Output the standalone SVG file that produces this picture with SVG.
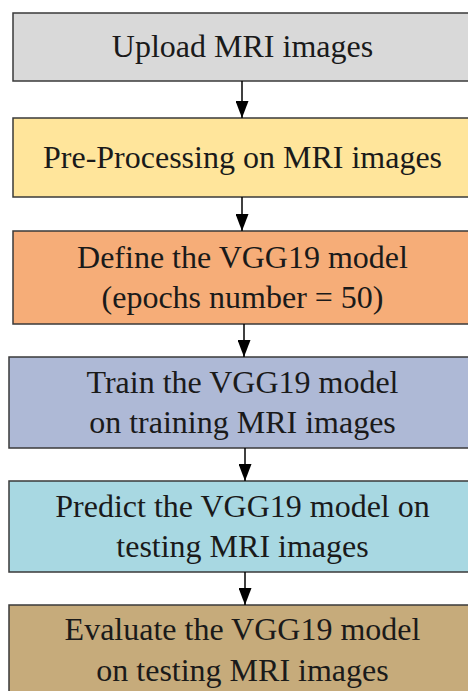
<svg xmlns="http://www.w3.org/2000/svg" width="468" height="691" viewBox="0 0 468 691">
<style>
.box{stroke:#3a3a3a;stroke-width:1.5}
.t{font-family:'Liberation Serif','Tinos','Nimbus Roman','DejaVu Serif',serif;font-size:32px;fill:#1a1a1a;text-anchor:middle}
.conn line{stroke:#000;stroke-width:1.5}
</style>
<defs>
<marker id="ah" markerWidth="17" markerHeight="13" refX="17" refY="6.5" orient="auto" markerUnits="userSpaceOnUse" viewBox="0 0 17 13">
<path d="M0,0 L17,6.5 L0,13 Z" fill="#000"/>
</marker>
</defs>
<rect width="468" height="691" fill="#fff"/>
<g id="n1"><rect class="box" x="13" y="13" width="470" height="68" fill="#d9d9d9"/><text class="t" font-family="Liberation Serif, serif" x="242.5" y="57">Upload MRI images</text></g>
<g id="n2"><rect class="box" x="13" y="118" width="470" height="79" fill="#ffe59b"/><text class="t" font-family="Liberation Serif, serif" x="242.5" y="168">Pre-Processing on MRI images</text></g>
<g id="n3"><rect class="box" x="13" y="231" width="470" height="93" fill="#f6ad78"/><text class="t" font-family="Liberation Serif, serif" x="242.5" y="268">Define the VGG19 model</text><text class="t" font-family="Liberation Serif, serif" x="242.5" y="308">(epochs number = 50)</text></g>
<g id="n4"><rect class="box" x="9" y="357" width="474" height="91" fill="#aeb9d6"/><text class="t" font-family="Liberation Serif, serif" x="242.5" y="393">Train the VGG19 model</text><text class="t" font-family="Liberation Serif, serif" x="242.5" y="433">on training MRI images</text></g>
<g id="n5"><rect class="box" x="9" y="481" width="474" height="91" fill="#a8d8e2"/><text class="t" font-family="Liberation Serif, serif" x="242.5" y="517">Predict the VGG19 model on</text><text class="t" font-family="Liberation Serif, serif" x="242.5" y="557">testing MRI images</text></g>
<g id="n6"><rect class="box" x="9" y="605" width="474" height="100" fill="#c6ab7b"/><text class="t" font-family="Liberation Serif, serif" x="242.5" y="640">Evaluate the VGG19 model</text><text class="t" font-family="Liberation Serif, serif" x="242.5" y="681">on testing MRI images</text></g>
<g class="conn">
<line x1="242" y1="81" x2="242" y2="118" marker-end="url(#ah)"/>
<line x1="242" y1="197" x2="242" y2="231" marker-end="url(#ah)"/>
<line x1="244" y1="324" x2="244" y2="357" marker-end="url(#ah)"/>
<line x1="245" y1="448" x2="245" y2="481" marker-end="url(#ah)"/>
<line x1="245" y1="572" x2="245" y2="605" marker-end="url(#ah)"/>
</g>
</svg>
